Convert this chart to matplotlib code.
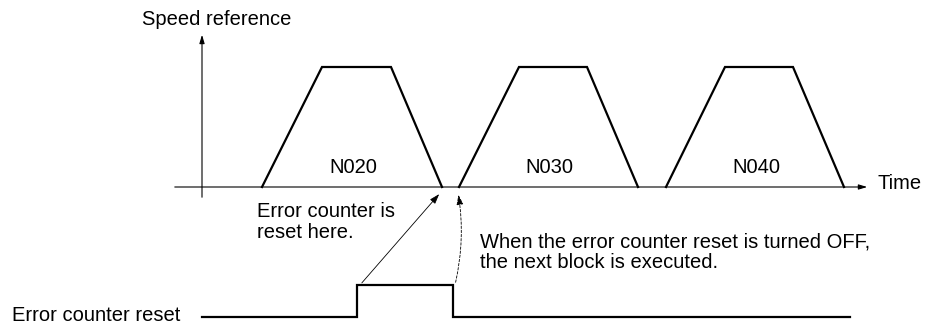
import matplotlib.pyplot as plt

# speed reference blocks (pixel-like units, y grows downward)
block_names = ['N020', 'N030', 'N040']
block_start = [262, 459, 666]
accel_len = [60, 60, 59]
flat_len = [69, 68, 68]
decel_len = [51, 51, 51]
top_speed = 67
zero_level = 187

# error counter reset signal
reset_x = [202, 357, 357, 453, 453, 850]
reset_y = [317, 317, 285, 285, 317, 317]

plt.rcParams['font.family'] = ['Liberation Sans', 'DejaVu Sans']
fs = 14.5

fig = plt.figure(figsize=(9.26, 3.26), dpi=100)
ax = fig.add_axes([0, 0, 1, 1])
ax.set_xlim(0, 926)
ax.set_ylim(326, 0)
ax.axis('off')

# axes
ax.annotate('', xy=(202, 32), xytext=(202, 200),
            arrowprops=dict(arrowstyle='-|>,head_length=0.5,head_width=0.15', lw=0.8, color='black'))
ax.annotate('', xy=(870, zero_level), xytext=(172, zero_level),
            arrowprops=dict(arrowstyle='-|>,head_length=0.5,head_width=0.15', lw=0.8, color='black'))
ax.text(142, 25, 'Speed reference', fontsize=fs, ha='left', va='baseline')
ax.text(877, 189, 'Time', fontsize=fs, ha='left', va='baseline')

# trapezoids
for name, s, a, f, d in zip(block_names, block_start, accel_len, flat_len, decel_len):
    xs = [s, s + a, s + a + f, s + a + f + d]
    ys = [zero_level, top_speed, top_speed, zero_level]
    ax.plot(xs, ys, color='black', lw=1.6, solid_joinstyle='miter')
    ax.text(s + (a + f + d) / 2 + 1, 173, name, fontsize=fs, ha='center', va='baseline')

# reset signal
ax.plot(reset_x, reset_y, color='black', lw=1.6, solid_joinstyle='miter')
ax.text(12, 321, 'Error counter reset', fontsize=fs, ha='left', va='baseline')

# annotations
end1 = block_start[0] + accel_len[0] + flat_len[0] + decel_len[0]
ax.annotate('', xy=(end1 - 1, 192), xytext=(reset_x[1] + 3, reset_y[2]),
            arrowprops=dict(arrowstyle='-|>,head_length=0.6,head_width=0.2', lw=0.6, color='black'))
ax.annotate('', xy=(block_start[1] - 1, 192), xytext=(reset_x[3] + 2, reset_y[3]),
            arrowprops=dict(arrowstyle='-|>,head_length=0.6,head_width=0.2', lw=0.6, color='black',
                            linestyle=(0, (3, 2)), connectionstyle='arc3,rad=0.1'))

ax.text(257, 217, 'Error counter is', fontsize=fs, ha='left', va='baseline')
ax.text(257, 238, 'reset here.', fontsize=fs, ha='left', va='baseline')
ax.text(480, 247, 'When the error counter reset is turned OFF,', fontsize=fs, ha='left', va='baseline')
ax.text(480, 268, 'the next block is executed.', fontsize=fs, ha='left', va='baseline')

fig.savefig('out.png', dpi=100)
